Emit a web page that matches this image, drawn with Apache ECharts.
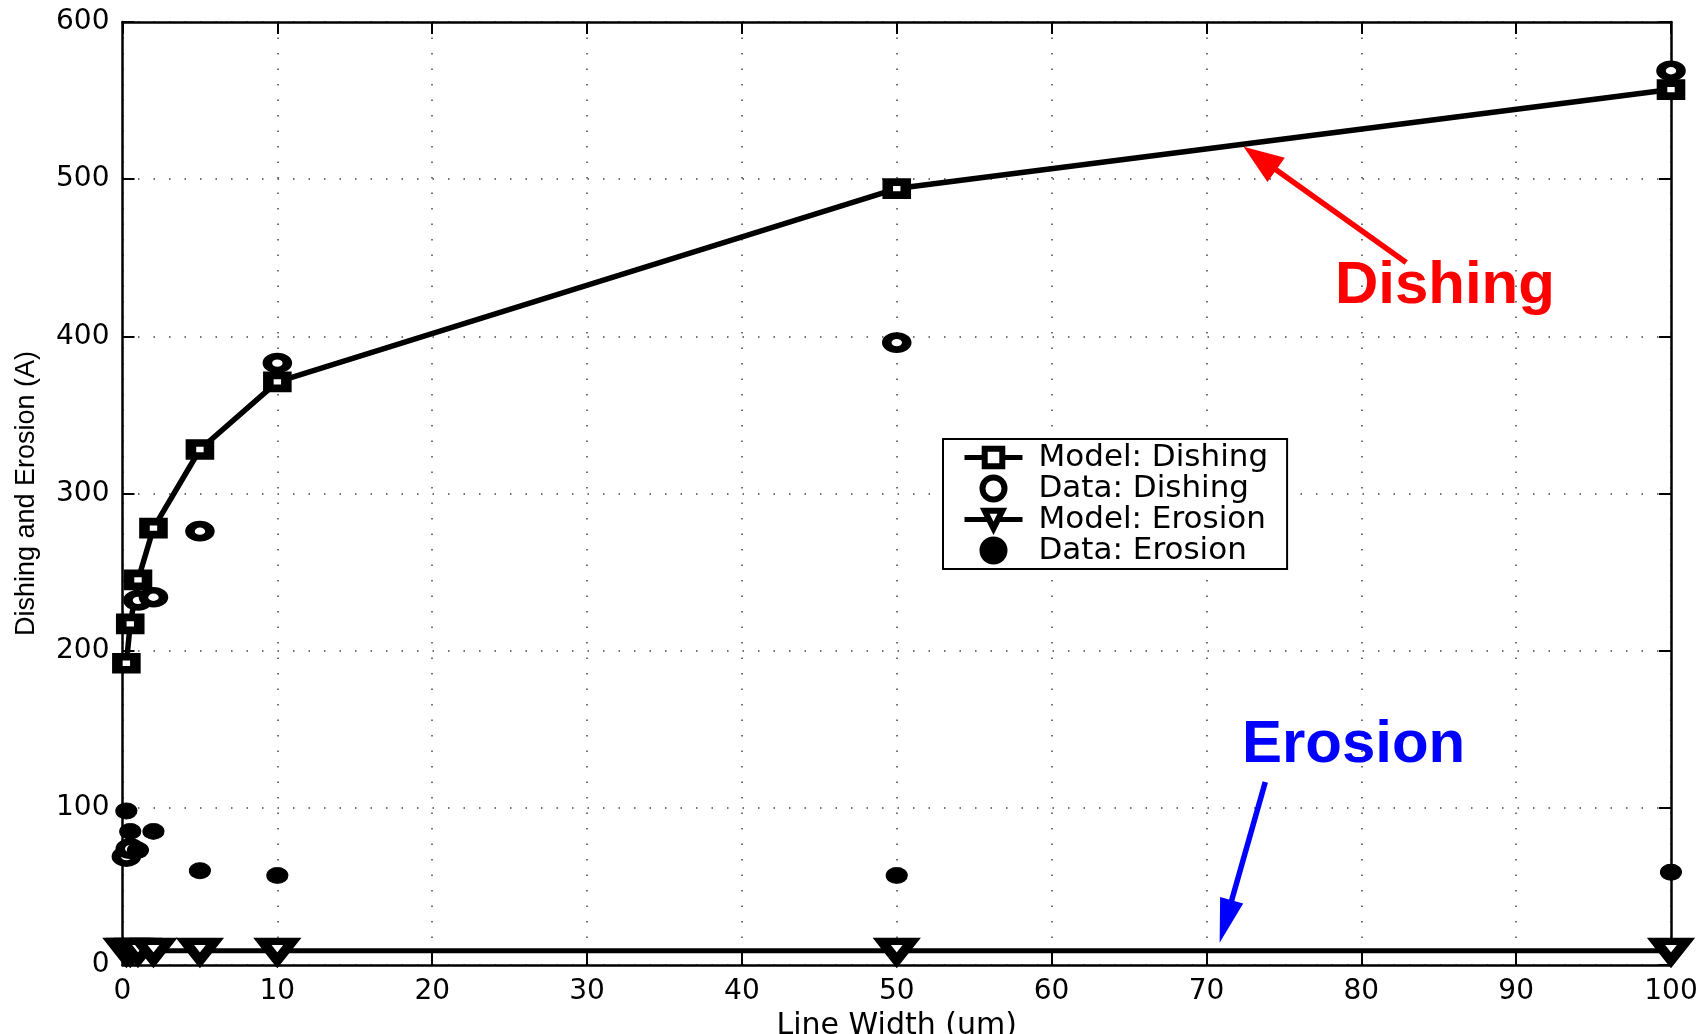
<!DOCTYPE html>
<html>
<head>
<meta charset="utf-8">
<script src="https://cdn.jsdelivr.net/npm/echarts@6/dist/echarts.min.js"></script>
<style>
html,body{margin:0;padding:0;background:#fff;}
#chart{width:1703px;height:1034px;}
</style>
</head>
<body>
<div id="chart"></div>
<script>
const lineWidths = [0.25, 0.5, 1, 2, 5, 10, 50, 100];
const modelDishing = [192, 217, 245, 278, 328, 371, 494, 557];
const dataDishing = [69, 74, 232, 234, 276, 383, 396, 569];
const modelErosion = [9, 9, 9, 9, 9, 9, 9, 9];
const dataErosion = [98, 85, 73, 85, 60, 57, 57, 59];
const xTicks = [0, 10, 20, 30, 40, 50, 60, 70, 80, 90, 100];
const yTicks = [0, 100, 200, 300, 400, 500, 600];
const seriesNames = ['Model: Dishing', 'Data: Dishing', 'Model: Erosion', 'Data: Erosion'];
// annotation anchors (data space): arrow tail, arrow head centre
const dishingArrow = [[82.9, 447], [73.45, 513.3]];
const erosionArrow = [[73.8, 116.5], [71.24, 27.7]];
const dishingLabelPos = [85.4, 431.5];
const erosionLabelPos = [79.5, 140];

const pair = (ys) => lineWidths.map((x, i) => [x, ys[i]]);
const tickFont = 'DejaVu Sans';

const chart = echarts.init(document.getElementById('chart'), null, {renderer: 'canvas'});
const gridLine = {show: true, lineStyle: {color: '#444', width: 1.5, type: [1.5, 14]}};
const axisLineStyle = {show: true, lineStyle: {color: '#000', width: 2.5}};
const tickInside = {show: true, inside: true, length: 12, lineStyle: {color: '#000', width: 2}};

chart.setOption({
  animation: false,
  backgroundColor: '#fff',
  grid: {left: 122.5, right: 32, top: 22, bottom: 69, containLabel: false, outerBoundsMode: 'none'},
  legend: {
    data: seriesNames,
    orient: 'vertical',
    left: 943, top: 439,
    padding: [3, 19, 3, 19],
    itemGap: 0,
    itemWidth: 58, itemHeight: 22,
    borderColor: '#000', borderWidth: 2,
    backgroundColor: '#fff',
    itemStyle: {borderWidth: 6},
    lineStyle: {width: 5},
    textStyle: {fontFamily: tickFont, fontSize: 31, color: '#000', lineHeight: 30, padding: [0, 0, 0, 11]}
  },
  xAxis: [{
    type: 'value', min: 0, max: 100, interval: 10,
    axisLine: {...axisLineStyle, onZero: false},
    axisTick: tickInside,
    axisLabel: {fontFamily: tickFont, fontSize: 28, color: '#000', margin: 13,
      formatter: v => xTicks.includes(v) ? String(v) : ''},
    splitLine: gridLine,
    name: 'Line Width (um)', nameLocation: 'middle', nameGap: 42,
    nameTextStyle: {fontFamily: tickFont, fontSize: 30, color: '#000'}
  }, {
    type: 'value', min: 0, max: 100, interval: 10, position: 'top',
    axisLine: {...axisLineStyle, onZero: false},
    axisTick: tickInside, axisLabel: {show: false}, splitLine: {show: false}
  }],
  yAxis: [{
    type: 'value', min: 0, max: 600, interval: 100,
    axisLine: {...axisLineStyle, onZero: false},
    axisTick: tickInside,
    axisLabel: {fontFamily: tickFont, fontSize: 28, color: '#000', margin: 13,
      formatter: v => yTicks.includes(v) ? String(v) : ''},
    splitLine: gridLine,
    name: 'Dishing and Erosion (A)', nameLocation: 'middle', nameGap: 82,
    nameTextStyle: {fontFamily: 'Liberation Sans', fontSize: 27, color: '#000'}
  }, {
    type: 'value', min: 0, max: 600, interval: 100, position: 'right',
    axisLine: {...axisLineStyle, onZero: false},
    axisTick: tickInside, axisLabel: {show: false}, splitLine: {show: false}
  }],
  series: [
    {
      name: seriesNames[0], type: 'line', data: pair(modelDishing),
      symbol: 'rect', symbolSize: [18, 13], showAllSymbol: true,
      lineStyle: {color: '#000', width: 5.5},
      itemStyle: {color: '#fff', borderColor: '#000', borderWidth: 9},
      z: 3
    },
    {
      name: seriesNames[1], type: 'scatter', data: pair(dataDishing),
      symbol: 'circle', symbolSize: [20, 14],
      itemStyle: {color: '#fff', borderColor: '#000', borderWidth: 8, opacity: 1},
      z: 4
    },
    {
      name: seriesNames[2], type: 'line', data: pair(modelErosion),
      symbol: 'triangle', symbolRotate: 180, symbolSize: [30, 19], showAllSymbol: true,
      lineStyle: {color: '#000', width: 5},
      itemStyle: {color: '#fff', borderColor: '#000', borderWidth: 9},
      z: 3
    },
    {
      name: seriesNames[3], type: 'scatter', data: pair(dataErosion),
      symbol: 'circle', symbolSize: [21, 16],
      itemStyle: {color: '#000', borderColor: '#000', opacity: 1},
      z: 4
    },
    {
      name: 'annotations', type: 'line', data: [], silent: true,
      markLine: {
        silent: true, animation: false,
        label: {show: false},
        data: [
          [{coord: dishingArrow[0], symbol: 'none', lineStyle: {color: '#ff0000', width: 5.5, type: 'solid'}},
           {coord: dishingArrow[1], symbol: 'triangle', symbolSize: [30, 40], itemStyle: {color: '#ff0000'}}],
          [{coord: erosionArrow[0], symbol: 'none', lineStyle: {color: '#0000ff', width: 5.5, type: 'solid'}},
           {coord: erosionArrow[1], symbol: 'triangle', symbolSize: [24, 44], itemStyle: {color: '#0000ff'}}]
        ]
      },
      markPoint: {
        silent: true, symbol: 'circle', symbolSize: 0,
        data: [
          {coord: dishingLabelPos, label: {show: true, formatter: 'Dishing', color: '#ff0000', fontFamily: 'Liberation Sans', fontWeight: 'bold', fontSize: 60, position: 'inside'}},
          {coord: erosionLabelPos, label: {show: true, formatter: 'Erosion', color: '#0000ff', fontFamily: 'Liberation Sans', fontWeight: 'bold', fontSize: 60, position: 'inside'}}
        ]
      }
    }
  ]
});
</script>
</body>
</html>
